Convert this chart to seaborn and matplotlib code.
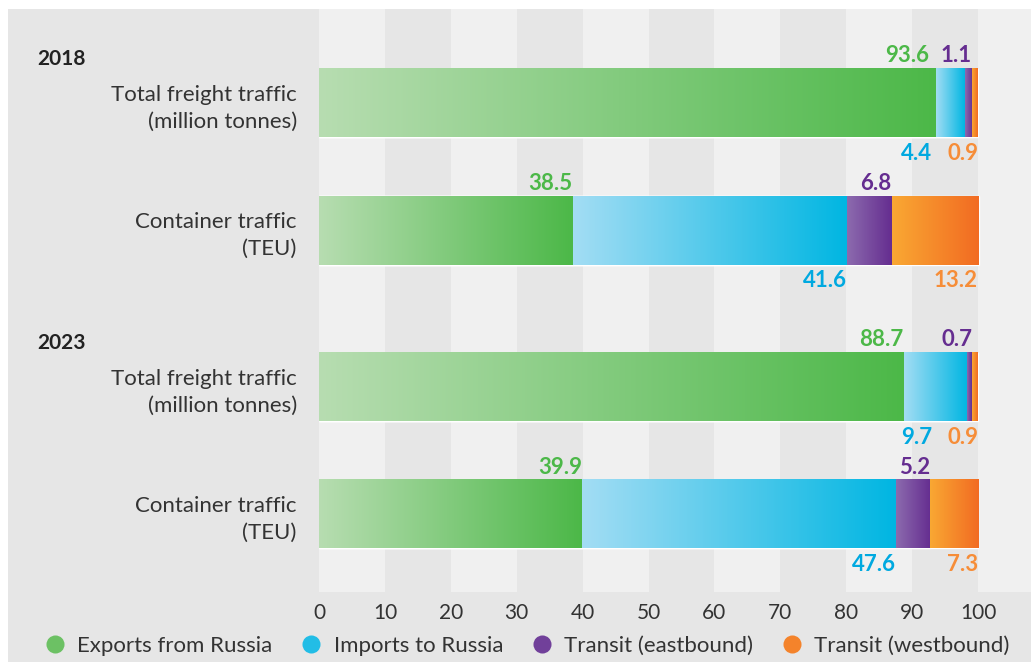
import matplotlib
matplotlib.use("Agg")
import matplotlib.pyplot as plt
import matplotlib.transforms as mtransforms
from matplotlib.colors import LinearSegmentedColormap
from matplotlib.lines import Line2D
from matplotlib.patches import Rectangle
import numpy as np
import pandas as pd
import seaborn as sns

# data (shares, %)
row_labels = ["Total freight traffic\n(million tonnes)", "Container traffic\n(TEU)",
              "Total freight traffic\n(million tonnes)", "Container traffic\n(TEU)"]
years = ["2018", "2023"]
exports = [93.6, 38.5, 88.7, 39.9]
imports = [4.4, 41.6, 9.7, 47.6]
east = [1.1, 6.8, 0.7, 5.2]
west = [0.9, 13.2, 0.9, 7.3]
series_names = ["Exports from Russia", "Imports to Russia", "Transit (eastbound)", "Transit (westbound)"]
xticks = [0, 10, 20, 30, 40, 50, 60, 70, 80, 90, 100]

# styling
row_pos = [0, 1, 2.23, 3.23]
grad_start = ["#b7ddb1", "#a3ddf4", "#8c6bae", "#f9a833"]
grad_end = ["#4cb848", "#00b6e2", "#652d90", "#f26b22"]
label_colors = ["#4cb848", "#00a9e0", "#652d90", "#f68d38"]
legend_colors = ["#6cc164", "#22bde6", "#71409a", "#f4832b"]
text_color = "#333333"
bg_gray = "#e6e6e6"
col_light = "#f0f0f0"

sns.set_theme(style="white")
plt.rcParams["font.family"] = ["Lato", "DejaVu Sans"]

W, H = 1031, 662
fig = plt.figure(figsize=(W / 100, H / 100), dpi=100, facecolor="white")
fig.patches.append(Rectangle((8 / W, 0), 1 - 8 / W, 1 - 9 / H, transform=fig.transFigure,
                             facecolor=bg_gray, edgecolor="none", zorder=-5))
ax = fig.add_axes([319 / W, (H - 592) / H, (W - 319) / W, (592 - 9) / H])
ax.set_facecolor(bg_gray)
ax.set_zorder(1)

series = [exports, imports, east, west]
cum = np.cumsum(np.array(series), axis=0)  # shape (4 series, 4 rows)

# stacked look: draw cumulative ends from the outermost segment inwards
bar_patches = {}
for k in range(3, -1, -1):
    df = pd.DataFrame({"end": cum[k], "pos": row_pos})
    n0 = len(ax.patches)
    sns.barplot(data=df, x="end", y="pos", orient="y", native_scale=True,
                width=0.535, color=grad_end[k], saturation=1, ax=ax, zorder=2)
    bar_patches[k] = ax.patches[n0:]

# gradient fill for each segment, using the seaborn bar geometry
for k in range(4):
    cmap = LinearSegmentedColormap.from_list(f"g{k}", [grad_start[k], grad_end[k]])
    for i, p in enumerate(bar_patches[k]):
        y0, h = p.get_y(), p.get_height()
        x1 = p.get_x() + p.get_width()
        x0 = 0 if k == 0 else cum[k - 1][i]
        ax.imshow(np.linspace(0, 1, 256).reshape(1, -1), cmap=cmap, aspect="auto",
                  extent=[x0, x1, y0 + h, y0], zorder=3, interpolation="bilinear")

# alternating column bands
for s in range(0, 110, 20):
    ax.axvspan(s, s + 10, color=col_light, zorder=0, lw=0)

ax.set_xlim(0, (W - 319) / 6.59)
ax.set_ylim(3.84, -0.74)
for sp in ax.spines.values():
    sp.set_visible(False)

ax.set_xticks(xticks)
ax.set_xticklabels([str(t) for t in xticks], fontsize=15, color=text_color)
ax.set_yticks(row_pos)
ax.set_yticklabels(row_labels, fontsize=16, color=text_color, linespacing=1.4)
ax.tick_params(axis="x", length=0, pad=8)
ax.tick_params(axis="y", length=0, pad=16)
ax.set_xlabel("")
ax.set_ylabel("")

# year headings
trans = mtransforms.blended_transform_factory(fig.transFigure, ax.transData)
for yr, r in zip(years, [row_pos[0], row_pos[2]]):
    fig.text(37 / W, r - 0.35, yr, transform=trans, fontsize=15, fontweight="bold",
             color="#222222", ha="left", va="center")

# value labels
bar_half = 0.535 / 2
for i, r in enumerate(row_pos):
    purple_right = cum[2][i]
    green_right = min(cum[0][i], purple_right - 6.5)
    orange_right = min(cum[3][i], 100)
    blue_right = min(cum[1][i], orange_right - 7)
    above = [(exports[i], green_right, label_colors[0]), (east[i], purple_right, label_colors[2])]
    below = [(imports[i], blue_right, label_colors[1]), (west[i], orange_right, label_colors[3])]
    for v, x, c in above:
        ax.annotate(f"{v:.1f}", (x, r - bar_half), xytext=(0, 2), textcoords="offset points",
                    ha="right", va="bottom", fontsize=16, fontweight="bold", color=c, zorder=5)
    for v, x, c in below:
        ax.annotate(f"{v:.1f}", (x, r + bar_half), xytext=(0, -4), textcoords="offset points",
                    ha="right", va="top", fontsize=16, fontweight="bold", color=c, zorder=5)

# legend
handles = [Line2D([], [], marker="o", linestyle="none", markersize=13,
                  markerfacecolor=c, markeredgecolor="none") for c in legend_colors]
fig.legend(handles, series_names, loc="center", bbox_to_anchor=(528 / W, 1 - 646 / H),
           ncol=4, frameon=False, fontsize=16, handlelength=0.8, handletextpad=0.6,
           columnspacing=1.35, labelcolor=text_color)

fig.savefig("out.png", dpi=100, facecolor="white")
